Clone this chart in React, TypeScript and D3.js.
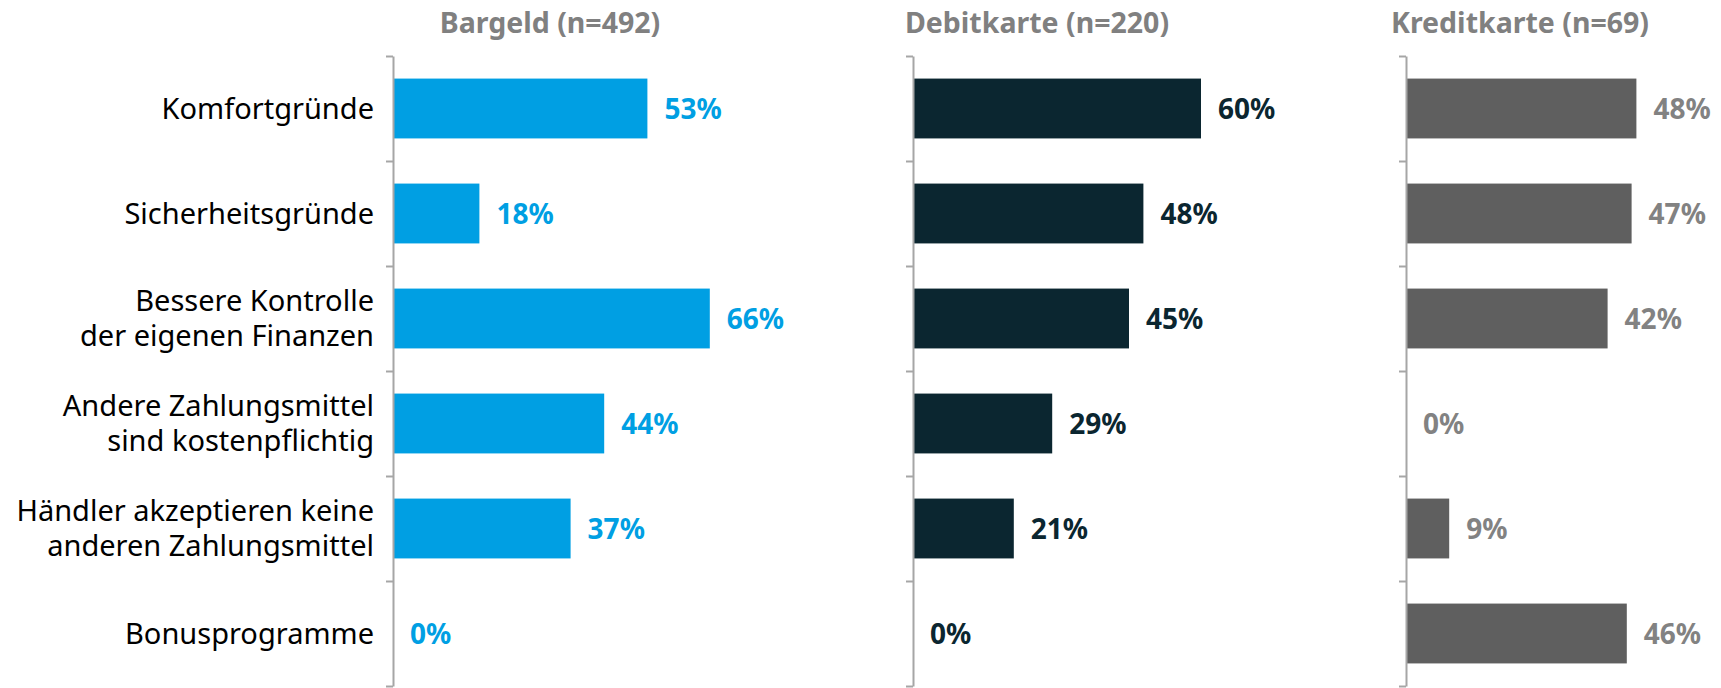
import React, { useRef, useEffect } from 'react';
import * as d3 from 'd3';

const categories = [
  'Komfortgründe',
  'Sicherheitsgründe',
  'Bessere Kontrolle\nder eigenen Finanzen',
  'Andere Zahlungsmittel\nsind kostenpflichtig',
  'Händler akzeptieren keine\nanderen Zahlungsmittel',
  'Bonusprogramme',
];

const panelTitles = ['Bargeld (n=492)', 'Debitkarte (n=220)', 'Kreditkarte (n=69)'];
const bargeld = [53, 18, 66, 44, 37, 0];
const debitkarte = [60, 48, 45, 29, 21, 0];
const kreditkarte = [48, 47, 42, 0, 9, 46];

const W = 1721;
const H = 688;
const FONT = "'Noto Sans', 'Open Sans', sans-serif";

const App = () => {
  const svgRef = useRef<SVGSVGElement>(null);

  useEffect(() => {
    const svg = d3.select(svgRef.current);
    svg.selectAll('*').remove();

    const panels = [
      { title: panelTitles[0], values: bargeld, axisX: 393, titleX: 550, bar: '#009fe3', label: '#009fe3' },
      { title: panelTitles[1], values: debitkarte, axisX: 913, titleX: 1037, bar: '#0b2630', label: '#0b2630' },
      { title: panelTitles[2], values: kreditkarte, axisX: 1406, titleX: 1520, bar: '#5f5f5f', label: '#828282' },
    ];

    const y = d3.scaleBand<string>()
      .domain(categories)
      .range([56, 686])
      .paddingInner(0.43)
      .paddingOuter(0.215);

    // boundaries between categories for the tick marks
    const yEdge = d3.scaleLinear().domain([0, categories.length]).range([56, 686]);

    const x = d3.scaleLinear().domain([0, 100]).range([0, 480]);

    // category labels
    const catG = svg.append('g');
    categories.forEach((c) => {
      const lines = c.split('\n');
      const cy = y(c)! + y.bandwidth() / 2;
      const t = catG.append('text')
        .attr('x', 374)
        .attr('y', cy)
        .attr('text-anchor', 'end')
        .attr('font-family', FONT)
        .attr('font-size', 29)
        .attr('fill', '#000');
      lines.forEach((l, i) => {
        t.append('tspan')
          .attr('x', 374)
          .attr('y', cy + (i - (lines.length - 1) / 2) * 35 + 10)
          .text(l);
      });
    });

    panels.forEach((p) => {
      const g = svg.append('g').attr('transform', `translate(${p.axisX},0)`);

      g.append('text')
        .attr('x', p.titleX - p.axisX)
        .attr('y', 33)
        .attr('text-anchor', 'middle')
        .attr('font-family', FONT)
        .attr('font-weight', 'bold')
        .attr('font-size', 28.5)
        .attr('fill', '#808080')
        .text(p.title);

      g.selectAll('rect.bar')
        .data(p.values)
        .enter()
        .append('rect')
        .attr('class', 'bar')
        .attr('x', 0)
        .attr('y', (d, i) => y(categories[i])!)
        .attr('width', (d) => x(d))
        .attr('height', y.bandwidth())
        .attr('fill', p.bar);

      g.selectAll('text.val')
        .data(p.values)
        .enter()
        .append('text')
        .attr('class', 'val')
        .attr('x', (d) => x(d) + 17)
        .attr('y', (d, i) => y(categories[i])! + y.bandwidth() / 2 + 10)
        .attr('font-family', FONT)
        .attr('font-weight', 'bold')
        .attr('font-size', 28)
        .attr('fill', p.label)
        .text((d) => d + '%');

      const axis = d3.axisLeft(yEdge)
        .tickValues(d3.range(0, categories.length + 1))
        .tickFormat(() => '')
        .tickSize(7)
        .tickSizeOuter(0);
      const ag = g.append('g').call(axis);
      ag.selectAll('path, line').attr('stroke', '#a6a6a6').attr('stroke-width', 2);
    });
  }, []);

  return (
    <div style={{ position: 'absolute', left: 0, top: 0 }}>
      <svg ref={svgRef} width={W} height={H} style={{ display: 'block', background: '#fff' }} />
    </div>
  );
};

export default App;
